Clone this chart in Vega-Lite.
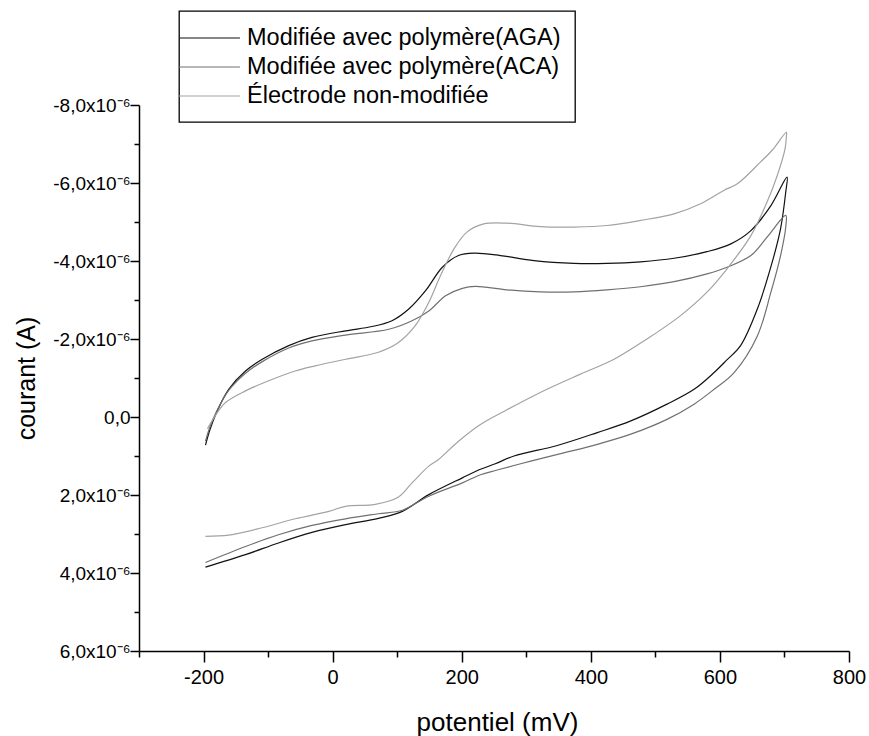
{
"$schema": "https://vega.github.io/schema/vega-lite/v6.json",
"width": 710,
"height": 546,
"autosize": "none",
"padding": {"left": 139, "top": 105, "right": 20, "bottom": 85},
"background": "white",
"config": {"view": {"stroke": null}, "font": "Liberation Sans", "legend": {"strokeWidth": 1.3}},
"datasets": {
"cv": [
{"s":"Modifiée avec polymère(AGA)","i":0,"x":-197,"y":0.72e-6},
{"s":"Modifiée avec polymère(AGA)","i":1,"x":-190,"y":0.32e-6},
{"s":"Modifiée avec polymère(AGA)","i":2,"x":-179,"y":-0.15e-6},
{"s":"Modifiée avec polymère(AGA)","i":3,"x":-161,"y":-0.71e-6},
{"s":"Modifiée avec polymère(AGA)","i":4,"x":-135,"y":-1.18e-6},
{"s":"Modifiée avec polymère(AGA)","i":5,"x":-109,"y":-1.48e-6},
{"s":"Modifiée avec polymère(AGA)","i":6,"x":-68,"y":-1.83e-6},
{"s":"Modifiée avec polymère(AGA)","i":7,"x":-32,"y":-2.04e-6},
{"s":"Modifiée avec polymère(AGA)","i":8,"x":20,"y":-2.21e-6},
{"s":"Modifiée avec polymère(AGA)","i":9,"x":61,"y":-2.32e-6},
{"s":"Modifiée avec polymère(AGA)","i":10,"x":92,"y":-2.47e-6},
{"s":"Modifiée avec polymère(AGA)","i":11,"x":118,"y":-2.77e-6},
{"s":"Modifiée avec polymère(AGA)","i":12,"x":144,"y":-3.24e-6},
{"s":"Modifiée avec polymère(AGA)","i":13,"x":170,"y":-3.84e-6},
{"s":"Modifiée avec polymère(AGA)","i":14,"x":195,"y":-4.14e-6},
{"s":"Modifiée avec polymère(AGA)","i":15,"x":219,"y":-4.2e-6},
{"s":"Modifiée avec polymère(AGA)","i":16,"x":260,"y":-4.14e-6},
{"s":"Modifiée avec polymère(AGA)","i":17,"x":312,"y":-4.01e-6},
{"s":"Modifiée avec polymère(AGA)","i":18,"x":374,"y":-3.94e-6},
{"s":"Modifiée avec polymère(AGA)","i":19,"x":425,"y":-3.94e-6},
{"s":"Modifiée avec polymère(AGA)","i":20,"x":477,"y":-3.98e-6},
{"s":"Modifiée avec polymère(AGA)","i":21,"x":529,"y":-4.07e-6},
{"s":"Modifiée avec polymère(AGA)","i":22,"x":580,"y":-4.24e-6},
{"s":"Modifiée avec polymère(AGA)","i":23,"x":617,"y":-4.44e-6},
{"s":"Modifiée avec polymère(AGA)","i":24,"x":648,"y":-4.78e-6},
{"s":"Modifiée avec polymère(AGA)","i":25,"x":679,"y":-5.42e-6},
{"s":"Modifiée avec polymère(AGA)","i":26,"x":704,"y":-6.15e-6},
{"s":"Modifiée avec polymère(AGA)","i":27,"x":702,"y":-5.77e-6},
{"s":"Modifiée avec polymère(AGA)","i":28,"x":694,"y":-4.83e-6},
{"s":"Modifiée avec polymère(AGA)","i":29,"x":681,"y":-3.97e-6},
{"s":"Modifiée avec polymère(AGA)","i":30,"x":658,"y":-2.77e-6},
{"s":"Modifiée avec polymère(AGA)","i":31,"x":632,"y":-1.83e-6},
{"s":"Modifiée avec polymère(AGA)","i":32,"x":610,"y":-1.45e-6},
{"s":"Modifiée avec polymère(AGA)","i":33,"x":591,"y":-1.14e-6},
{"s":"Modifiée avec polymère(AGA)","i":34,"x":560,"y":-0.71e-6},
{"s":"Modifiée avec polymère(AGA)","i":35,"x":518,"y":-0.33e-6},
{"s":"Modifiée avec polymère(AGA)","i":36,"x":462,"y":0.1e-6},
{"s":"Modifiée avec polymère(AGA)","i":37,"x":410,"y":0.4e-6},
{"s":"Modifiée avec polymère(AGA)","i":38,"x":348,"y":0.73e-6},
{"s":"Modifiée avec polymère(AGA)","i":39,"x":281,"y":1.0e-6},
{"s":"Modifiée avec polymère(AGA)","i":40,"x":252,"y":1.2e-6},
{"s":"Modifiée avec polymère(AGA)","i":41,"x":229,"y":1.34e-6},
{"s":"Modifiée avec polymère(AGA)","i":42,"x":201,"y":1.56e-6},
{"s":"Modifiée avec polymère(AGA)","i":43,"x":149,"y":1.99e-6},
{"s":"Modifiée avec polymère(AGA)","i":44,"x":108,"y":2.42e-6},
{"s":"Modifiée avec polymère(AGA)","i":45,"x":71,"y":2.6e-6},
{"s":"Modifiée avec polymère(AGA)","i":46,"x":20,"y":2.76e-6},
{"s":"Modifiée avec polymère(AGA)","i":47,"x":-32,"y":2.96e-6},
{"s":"Modifiée avec polymère(AGA)","i":48,"x":-84,"y":3.23e-6},
{"s":"Modifiée avec polymère(AGA)","i":49,"x":-135,"y":3.53e-6},
{"s":"Modifiée avec polymère(AGA)","i":50,"x":-197,"y":3.85e-6},

{"s":"Modifiée avec polymère(ACA)","i":0,"x":-197,"y":0.62e-6},
{"s":"Modifiée avec polymère(ACA)","i":1,"x":-190,"y":0.25e-6},
{"s":"Modifiée avec polymère(ACA)","i":2,"x":-179,"y":-0.17e-6},
{"s":"Modifiée avec polymère(ACA)","i":3,"x":-161,"y":-0.68e-6},
{"s":"Modifiée avec polymère(ACA)","i":4,"x":-135,"y":-1.12e-6},
{"s":"Modifiée avec polymère(ACA)","i":5,"x":-109,"y":-1.42e-6},
{"s":"Modifiée avec polymère(ACA)","i":6,"x":-68,"y":-1.77e-6},
{"s":"Modifiée avec polymère(ACA)","i":7,"x":-32,"y":-1.95e-6},
{"s":"Modifiée avec polymère(ACA)","i":8,"x":20,"y":-2.1e-6},
{"s":"Modifiée avec polymère(ACA)","i":9,"x":87,"y":-2.25e-6},
{"s":"Modifiée avec polymère(ACA)","i":10,"x":123,"y":-2.47e-6},
{"s":"Modifiée avec polymère(ACA)","i":11,"x":149,"y":-2.72e-6},
{"s":"Modifiée avec polymère(ACA)","i":12,"x":175,"y":-3.11e-6},
{"s":"Modifiée avec polymère(ACA)","i":13,"x":201,"y":-3.3e-6},
{"s":"Modifiée avec polymère(ACA)","i":14,"x":221,"y":-3.35e-6},
{"s":"Modifiée avec polymère(ACA)","i":15,"x":270,"y":-3.26e-6},
{"s":"Modifiée avec polymère(ACA)","i":16,"x":322,"y":-3.21e-6},
{"s":"Modifiée avec polymère(ACA)","i":17,"x":374,"y":-3.21e-6},
{"s":"Modifiée avec polymère(ACA)","i":18,"x":425,"y":-3.26e-6},
{"s":"Modifiée avec polymère(ACA)","i":19,"x":477,"y":-3.34e-6},
{"s":"Modifiée avec polymère(ACA)","i":20,"x":529,"y":-3.47e-6},
{"s":"Modifiée avec polymère(ACA)","i":21,"x":580,"y":-3.67e-6},
{"s":"Modifiée avec polymère(ACA)","i":22,"x":611,"y":-3.84e-6},
{"s":"Modifiée avec polymère(ACA)","i":23,"x":648,"y":-4.14e-6},
{"s":"Modifiée avec polymère(ACA)","i":24,"x":673,"y":-4.61e-6},
{"s":"Modifiée avec polymère(ACA)","i":25,"x":702,"y":-5.17e-6},
{"s":"Modifiée avec polymère(ACA)","i":26,"x":702,"y":-4.87e-6},
{"s":"Modifiée avec polymère(ACA)","i":27,"x":694,"y":-4.14e-6},
{"s":"Modifiée avec polymère(ACA)","i":28,"x":679,"y":-3.2e-6},
{"s":"Modifiée avec polymère(ACA)","i":29,"x":658,"y":-2.08e-6},
{"s":"Modifiée avec polymère(ACA)","i":30,"x":622,"y":-1.14e-6},
{"s":"Modifiée avec polymère(ACA)","i":31,"x":591,"y":-0.71e-6},
{"s":"Modifiée avec polymère(ACA)","i":32,"x":560,"y":-0.33e-6},
{"s":"Modifiée avec polymère(ACA)","i":33,"x":518,"y":0.06e-6},
{"s":"Modifiée avec polymère(ACA)","i":34,"x":462,"y":0.44e-6},
{"s":"Modifiée avec polymère(ACA)","i":35,"x":410,"y":0.7e-6},
{"s":"Modifiée avec polymère(ACA)","i":36,"x":358,"y":0.92e-6},
{"s":"Modifiée avec polymère(ACA)","i":37,"x":307,"y":1.13e-6},
{"s":"Modifiée avec polymère(ACA)","i":38,"x":255,"y":1.36e-6},
{"s":"Modifiée avec polymère(ACA)","i":39,"x":229,"y":1.48e-6},
{"s":"Modifiée avec polymère(ACA)","i":40,"x":201,"y":1.69e-6},
{"s":"Modifiée avec polymère(ACA)","i":41,"x":149,"y":2.03e-6},
{"s":"Modifiée avec polymère(ACA)","i":42,"x":108,"y":2.39e-6},
{"s":"Modifiée avec polymère(ACA)","i":43,"x":71,"y":2.48e-6},
{"s":"Modifiée avec polymère(ACA)","i":44,"x":20,"y":2.61e-6},
{"s":"Modifiée avec polymère(ACA)","i":45,"x":-32,"y":2.78e-6},
{"s":"Modifiée avec polymère(ACA)","i":46,"x":-84,"y":3.02e-6},
{"s":"Modifiée avec polymère(ACA)","i":47,"x":-135,"y":3.32e-6},
{"s":"Modifiée avec polymère(ACA)","i":48,"x":-197,"y":3.73e-6},

{"s":"Électrode non-modifiée","i":0,"x":-194,"y":0.3e-6},
{"s":"Électrode non-modifiée","i":1,"x":-182,"y":-0.03e-6},
{"s":"Électrode non-modifiée","i":2,"x":-166,"y":-0.37e-6},
{"s":"Électrode non-modifiée","i":3,"x":-135,"y":-0.67e-6},
{"s":"Électrode non-modifiée","i":4,"x":-99,"y":-0.93e-6},
{"s":"Électrode non-modifiée","i":5,"x":-58,"y":-1.18e-6},
{"s":"Électrode non-modifiée","i":6,"x":-27,"y":-1.31e-6},
{"s":"Électrode non-modifiée","i":7,"x":20,"y":-1.48e-6},
{"s":"Électrode non-modifiée","i":8,"x":71,"y":-1.66e-6},
{"s":"Électrode non-modifiée","i":9,"x":102,"y":-1.91e-6},
{"s":"Électrode non-modifiée","i":10,"x":128,"y":-2.34e-6},
{"s":"Électrode non-modifiée","i":11,"x":149,"y":-2.94e-6},
{"s":"Électrode non-modifiée","i":12,"x":167,"y":-3.62e-6},
{"s":"Électrode non-modifiée","i":13,"x":188,"y":-4.31e-6},
{"s":"Électrode non-modifiée","i":14,"x":208,"y":-4.74e-6},
{"s":"Électrode non-modifiée","i":15,"x":234,"y":-4.95e-6},
{"s":"Électrode non-modifiée","i":16,"x":270,"y":-4.97e-6},
{"s":"Électrode non-modifiée","i":17,"x":322,"y":-4.88e-6},
{"s":"Électrode non-modifiée","i":18,"x":374,"y":-4.87e-6},
{"s":"Électrode non-modifiée","i":19,"x":425,"y":-4.91e-6},
{"s":"Électrode non-modifiée","i":20,"x":477,"y":-5.04e-6},
{"s":"Électrode non-modifiée","i":21,"x":529,"y":-5.21e-6},
{"s":"Électrode non-modifiée","i":22,"x":570,"y":-5.47e-6},
{"s":"Électrode non-modifiée","i":23,"x":606,"y":-5.81e-6},
{"s":"Électrode non-modifiée","i":24,"x":627,"y":-5.98e-6},
{"s":"Électrode non-modifiée","i":25,"x":663,"y":-6.54e-6},
{"s":"Électrode non-modifiée","i":26,"x":681,"y":-6.84e-6},
{"s":"Électrode non-modifiée","i":27,"x":703,"y":-7.3e-6},
{"s":"Électrode non-modifiée","i":28,"x":703,"y":-7.2e-6},
{"s":"Électrode non-modifiée","i":29,"x":701,"y":-6.88e-6},
{"s":"Électrode non-modifiée","i":30,"x":689,"y":-6.2e-6},
{"s":"Électrode non-modifiée","i":31,"x":673,"y":-5.51e-6},
{"s":"Électrode non-modifiée","i":32,"x":648,"y":-4.65e-6},
{"s":"Électrode non-modifiée","i":33,"x":611,"y":-3.8e-6},
{"s":"Électrode non-modifiée","i":34,"x":580,"y":-3.2e-6},
{"s":"Électrode non-modifiée","i":35,"x":539,"y":-2.6e-6},
{"s":"Électrode non-modifiée","i":36,"x":487,"y":-2.0e-6},
{"s":"Électrode non-modifiée","i":37,"x":436,"y":-1.48e-6},
{"s":"Électrode non-modifiée","i":38,"x":384,"y":-1.1e-6},
{"s":"Électrode non-modifiée","i":39,"x":332,"y":-0.71e-6},
{"s":"Électrode non-modifiée","i":40,"x":281,"y":-0.28e-6},
{"s":"Électrode non-modifiée","i":41,"x":229,"y":0.19e-6},
{"s":"Électrode non-modifiée","i":42,"x":195,"y":0.62e-6},
{"s":"Électrode non-modifiée","i":43,"x":164,"y":1.09e-6},
{"s":"Électrode non-modifiée","i":44,"x":149,"y":1.26e-6},
{"s":"Électrode non-modifiée","i":45,"x":123,"y":1.69e-6},
{"s":"Électrode non-modifiée","i":46,"x":102,"y":2.05e-6},
{"s":"Électrode non-modifiée","i":47,"x":66,"y":2.24e-6},
{"s":"Électrode non-modifiée","i":48,"x":20,"y":2.29e-6},
{"s":"Électrode non-modifiée","i":49,"x":-6,"y":2.42e-6},
{"s":"Électrode non-modifiée","i":50,"x":-58,"y":2.61e-6},
{"s":"Électrode non-modifiée","i":51,"x":-109,"y":2.84e-6},
{"s":"Électrode non-modifiée","i":52,"x":-161,"y":3.03e-6},
{"s":"Électrode non-modifiée","i":53,"x":-197,"y":3.06e-6}
]
},
"data": {"name": "cv"},
"mark": {"type": "line", "strokeWidth": 1.2, "interpolate": "catmull-rom"},
"encoding": {
"x": {"field": "x", "type": "quantitative",
 "scale": {"domain": [-300, 800], "nice": false, "zero": false},
 "axis": {"title": "potentiel (mV)", "grid": false,
  "values": [-300,-200,-100,0,100,200,300,400,500,600,700,800],
  "labelExpr": "datum.value % 200 == 0 ? '' + datum.value : ''",
  "labelFlush": false, "labelOverlap": false, "labelFontSize": 20, "labelColor": "black", "labelPadding": 5,
  "tickSize": {"condition": {"test": "datum.value % 200 == 0", "value": 11}, "value": 6},
  "tickColor": "black", "tickWidth": 1.5, "domainColor": "black", "domainWidth": 1.5,
  "titleFontSize": 26, "titleFontWeight": "normal", "titleColor": "black",
  "titleX": 358, "titleY": 79, "titleBaseline": "alphabetic", "titleAlign": "center"}},
"y": {"field": "y", "type": "quantitative",
 "scale": {"domain": [-8e-6, 6e-6], "reverse": true, "nice": false, "zero": false},
 "axis": {"title": "courant (A)", "grid": false,
  "values": [-8e-6,-7e-6,-6e-6,-5e-6,-4e-6,-3e-6,-2e-6,-1e-6,0,1e-6,2e-6,3e-6,4e-6,5e-6,6e-6],
  "labelExpr": "round(datum.value*1e6) % 2 != 0 ? '' : (round(datum.value*1e6) == 0 ? '0,0' : round(datum.value*1e6) + ',0x10⁻⁶')",
  "labelFlush": false, "labelOverlap": false, "labelFontSize": 19, "labelColor": "black", "labelPadding": 0,
  "tickSize": {"condition": {"test": "round(datum.value*1e6) % 2 == 0", "value": 9}, "value": 5},
  "tickColor": "black", "tickWidth": 1.5, "domainColor": "black", "domainWidth": 1.5,
  "titleFontSize": 25, "titleFontWeight": "normal", "titleColor": "black",
  "titleX": -105, "titleY": 273, "titleAngle": -90, "titleBaseline": "alphabetic", "titleAlign": "center"}},
"color": {"field": "s", "type": "nominal",
 "scale": {"domain": ["Modifiée avec polymère(AGA)", "Modifiée avec polymère(ACA)", "Électrode non-modifiée"],
  "range": ["#111111", "#707070", "#a3a3a3"]},
 "legend": {"title": null, "orient": "none", "legendX": 40, "legendY": -94, "direction": "vertical",
  "padding": 14, "strokeColor": "black", "fillColor": "white",
  "symbolType": "M-2.25,0H2.83", "symbolSize": 576, "symbolStrokeWidth": 1.2,
  "labelFontSize": 23.5, "labelOffset": 28, "rowPadding": 4, "labelColor": "black", "labelLimit": 0}},
"order": {"field": "i", "type": "quantitative"}
}
}
